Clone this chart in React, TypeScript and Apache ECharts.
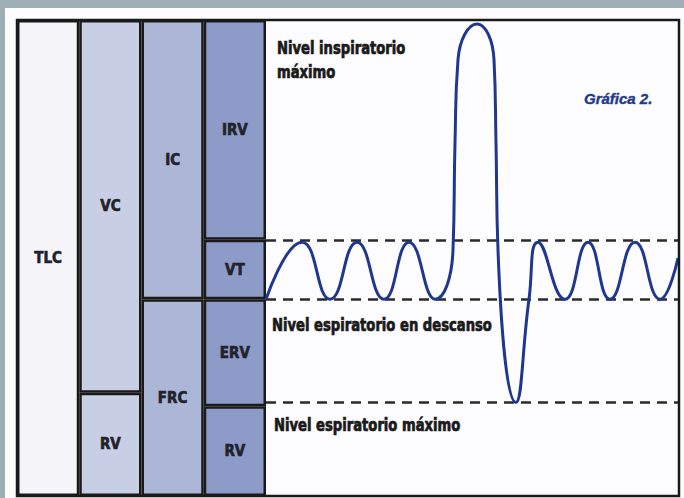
import React, { useEffect, useRef } from "react";
import * as echarts from "echarts";

// Column categories (spirometry volume bars)
const columnKeys = ["TLC", "VC/RV", "IC/FRC", "IRV/VT/ERV/RV"];

// Stacked segment values (mL), one array per segment name
const segTLC = [6000, "-", "-", "-"];
const segRV = ["-", 1300, "-", 1130];
const segVC = ["-", 4700, "-", "-"];
const segFRC = ["-", "-", 2480, "-"];
const segIC = ["-", "-", 3520, "-"];
const segERV = ["-", "-", "-", 1350];
const segVT = ["-", "-", "-", 750];
const segIRV = ["-", "-", "-", 2770];

// Spirogram trace (time in s, volume in mL)
const timeS = [0, 1.8, 3.2, 4.55, 5.9, 7.15, 8.45, 9.35, 9.45, 9.6, 10.55, 11.4, 11.5, 11.6, 12.5, 13.15, 13.6, 14.95, 16.1, 17.2, 18.45, 19.7, 20.6];
const volumeML = [2480, 3200, 2480, 3200, 2480, 3200, 2480, 3100, 4450, 5500, 5950, 5500, 4450, 3100, 1180, 2480, 3200, 2480, 3200, 2480, 3200, 2480, 3000];

// Reference levels (mL)
const levelValues = [3230, 2480, 1180];

const levelTexts = [
  "Nivel inspiratorio\nmáximo",
  "Nivel espiratorio en descanso",
  "Nivel espiratorio máximo",
];
const titleText = "Gráfica 2.";

const colColors = ["#f5f5f9", "#c8cee3", "#acb6d6", "#8d9bc8"];
const condFont = '"Liberation Sans Narrow", "DejaVu Sans Condensed", "Roboto", sans-serif';

export default function App() {
  const ref = useRef<HTMLDivElement>(null);
  useEffect(() => {
    if (!ref.current) return;
    const chart = echarts.init(ref.current, null, { renderer: "svg" });
    const segs: [string, any[]][] = [
      ["TLC", segTLC],
      ["RV", segRV],
      ["VC", segVC],
      ["FRC", segFRC],
      ["IC", segIC],
      ["ERV", segERV],
      ["VT", segVT],
      ["IRV", segIRV],
    ];
    const barSeries = segs.map(([name, data]) => ({
      name,
      type: "bar",
      stack: "vol",
      xAxisIndex: 0,
      yAxisIndex: 0,
      barWidth: "100%",
      barCategoryGap: "0%",
      data,
      itemStyle: {
        color: (p: any) => colColors[p.dataIndex],
        borderColor: "#1a1a1a",
        borderWidth: 2.5,
      },
      label: {
        show: true,
        position: "inside",
        formatter: "{a}",
        color: "#22222a",
        fontFamily: condFont,
        fontWeight: "bold",
        fontSize: 15,
        textBorderColor: "#22222a",
        textBorderWidth: 0.6,
      },
      emphasis: { disabled: true },
    }));
    const levelStyle = {
      font: `bold 17px ${condFont}`,
      fill: "#1a1a1a",
      stroke: "#1a1a1a",
      lineWidth: 0.7,
    };
    const option: any = {
      animation: false,
      backgroundColor: "#9eafb5",
      grid: [
        { left: 17, width: 249, top: 20, bottom: 2 },
        { left: 266, right: 5, top: 20, bottom: 2 },
      ],
      xAxis: [
        { type: "category", gridIndex: 0, data: columnKeys, show: false },
        { type: "value", gridIndex: 1, min: 0, max: 20.65, show: false },
      ],
      yAxis: [
        { type: "value", gridIndex: 0, min: 0, max: 6000, show: false },
        { type: "value", gridIndex: 1, min: 0, max: 6000, show: false },
      ],
      graphic: [
        {
          type: "rect",
          z: -10,
          silent: true,
          shape: { x: 5, y: 8, width: 679, height: 490 },
          style: { fill: "#fdfcfe" },
        },
        {
          type: "rect",
          z: 100,
          silent: true,
          shape: { x: 17, y: 20, width: 662, height: 476 },
          style: { fill: "none", stroke: "#1a1a1a", lineWidth: 2.5 },
        },
        {
          type: "text",
          x: 277,
          y: 36,
          scaleX: 0.86,
          style: { ...levelStyle, text: levelTexts[0], lineHeight: 24 },
        },
        {
          type: "text",
          x: 272,
          y: 317,
          scaleX: 0.86,
          style: { ...levelStyle, text: levelTexts[1] },
        },
        {
          type: "text",
          x: 274,
          y: 417,
          scaleX: 0.86,
          style: { ...levelStyle, text: levelTexts[2] },
        },
        {
          type: "text",
          x: 584,
          y: 91,
          style: {
            text: titleText,
            font: 'italic bold 15px "Liberation Sans", Arial, sans-serif',
            fill: "#1f3a8a",
            stroke: "#1f3a8a",
            lineWidth: 0.4,
          },
        },
      ],
      series: [
        ...barSeries,
        {
          type: "line",
          xAxisIndex: 1,
          yAxisIndex: 1,
          data: timeS.map((t, i) => [t, volumeML[i]]),
          smooth: 0.5,
          showSymbol: false,
          lineStyle: { color: "#1f3790", width: 3 },
          z: 5,
          markLine: {
            silent: true,
            symbol: ["none", "none"],
            label: { show: false },
            lineStyle: { type: [10, 7], color: "#2a2a2a", width: 2.5 },
            data: levelValues.map((v) => ({ yAxis: v })),
          },
        },
      ],
    };
    chart.setOption(option);
    return () => chart.dispose();
  }, []);
  return (
    <div
      ref={ref}
      style={{ position: "fixed", left: 0, top: 0, width: 684, height: 498 }}
    />
  );
}
